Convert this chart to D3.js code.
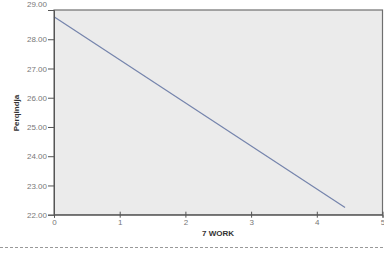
<!DOCTYPE html>
<html><head><meta charset="utf-8">
<script src="https://cdn.jsdelivr.net/npm/d3@7"></script>
<style>body{margin:0;background:#fff;}svg{display:block;}</style>
</head><body>
<script>
const xTicks = [0,1,2,3,4,5];
const yTicks = [22,23,24,25,26,27,28,29];
const lineX = [0, 4.43];
const lineY = [28.77, 22.25];
const xLabel = "7 WORK";
const yLabel = "Perqindja";

const W=384,H=253;
const svg=d3.select("body").append("svg").attr("width",W).attr("height",H);
const x=d3.scaleLinear().domain([0,5]).range([54,382.5]);
const y=d3.scaleLinear().domain([22,29]).range([214.7,10]);

svg.append("rect").attr("x",54).attr("y",10).attr("width",328.5).attr("height",204.7)
  .attr("fill","#ebebeb").attr("stroke","#6f6f6f").attr("stroke-width",1.2);

const pts=lineX.map((v,i)=>[x(v),y(lineY[i])]);
svg.append("path").attr("d",d3.line()(pts)).attr("fill","none").attr("stroke","#7584ac").attr("stroke-width",1.2);

const xa=svg.append("g").attr("transform","translate(0,214.7)")
  .call(d3.axisBottom(x).tickValues(xTicks).tickFormat(d3.format("d")).tickSize(3).tickPadding(2));
const ya=svg.append("g").attr("transform","translate(54,0)")
  .call(d3.axisLeft(y).tickValues(yTicks).tickFormat(d3.format(".2f")).tickSize(6).tickPadding(1));
[xa,ya].forEach(a=>{
  a.select(".domain").attr("stroke","#555");
  a.selectAll(".tick line").attr("stroke","#555");
  a.selectAll("text").attr("fill","#777").style("font-family","Liberation Sans, Arial").style("font-size","8px");
});
xa.selectAll(".tick line").attr("y1",-3);
ya.selectAll(".tick").filter(d=>d===29).select("text").attr("dy","-0.5em");

svg.append("text").attr("x",218).attr("y",236).attr("text-anchor","middle")
  .style("font-family","Liberation Sans, Arial").style("font-size","8px").style("font-weight","bold").attr("fill","#333").text(xLabel);
svg.append("text").attr("transform","translate(19,113) rotate(-90)").attr("text-anchor","middle")
  .style("font-family","Liberation Sans, Arial").style("font-size","8px").style("font-weight","bold").attr("fill","#333").text(yLabel);

svg.append("line").attr("x1",0).attr("x2",W).attr("y1",247.5).attr("y2",247.5)
  .attr("stroke","#999").attr("stroke-dasharray","3,2");
</script>
</body></html>
